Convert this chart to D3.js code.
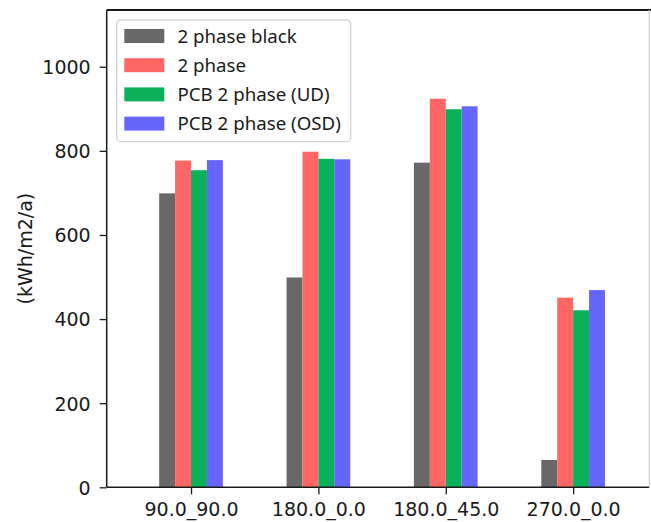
<!DOCTYPE html>
<html>
<head>
<meta charset="utf-8">
<script src="https://cdn.jsdelivr.net/npm/d3@7"></script>
<style>
  html, body { margin: 0; padding: 0; background: #fff; }
  svg { display: block; }
</style>
</head>
<body>
<svg id="chart" width="651" height="522"></svg>
<script>
const categories = ["90.0_90.0", "180.0_0.0", "180.0_45.0", "270.0_0.0"];
const seriesNames = ["2 phase black", "2 phase", "PCB 2 phase (UD)", "PCB 2 phase (OSD)"];
const seriesColors = ["#686868", "#ff6666", "#0bb05b", "#6666ff"];
const black2phase = [699, 499, 772, 65];
const phase2 = [777, 798, 924, 451];
const pcbUD = [754, 781, 899, 421];
const pcbOSD = [778, 780, 906, 469];
const seriesValues = [black2phase, phase2, pcbUD, pcbOSD];
const yTicks = [0, 200, 400, 600, 800, 1000];
const yLabel = "(kWh/m2/a)";

const svg = d3.select("#chart");
const L = 106.7, R = 649.3, T = 10, B = 487.3;

const x = d3.scaleLinear().domain([-0.662, 3.598]).range([L, R]);
const y = d3.scaleLinear().domain([0, 1135]).range([B, T]);
const barW = 0.125;

// bars
seriesValues.forEach((vals, si) => {
  svg.append("g").selectAll("rect").data(vals).join("rect")
    .attr("x", (d, i) => x(i - 0.25 + si * barW))
    .attr("width", x(barW) - x(0))
    .attr("y", d => y(d))
    .attr("height", d => y(0) - y(d))
    .attr("fill", seriesColors[si]);
});

const tickFont = "'DejaVu Sans', sans-serif";

// y axis
const yAxis = svg.append("g").attr("transform", `translate(${L},0)`)
  .call(d3.axisLeft(y).tickValues(yTicks).tickFormat(d3.format("d"))
    .tickSize(7).tickPadding(9).tickSizeOuter(0));
yAxis.select(".domain").remove();
yAxis.selectAll(".tick line").attr("stroke", "#1a1a1a").attr("stroke-width", 1.3);
yAxis.selectAll(".tick text").attr("font-family", tickFont).attr("font-size", 19)
  .attr("fill", "#1a1a1a").attr("dy", "0.36em");

// x axis
const xAxis = svg.append("g").attr("transform", `translate(0,${B})`)
  .call(d3.axisBottom(x).tickValues(d3.range(categories.length))
    .tickFormat(i => categories[i]).tickSize(7).tickPadding(8).tickSizeOuter(0));
xAxis.select(".domain").remove();
xAxis.selectAll(".tick line").attr("stroke", "#1a1a1a").attr("stroke-width", 1.3);
xAxis.selectAll(".tick text").attr("font-family", tickFont).attr("font-size", 19)
  .attr("fill", "#1a1a1a").attr("dy", "0.73em");

// spines
svg.append("line").attr("x1", L).attr("x2", L).attr("y1", T).attr("y2", B)
  .attr("stroke", "#1a1a1a").attr("stroke-width", 1.5);
svg.append("line").attr("x1", L).attr("x2", R).attr("y1", B).attr("y2", B)
  .attr("stroke", "#1a1a1a").attr("stroke-width", 1.5);
svg.append("line").attr("x1", L).attr("x2", 651).attr("y1", T).attr("y2", T)
  .attr("stroke", "#1a1a1a").attr("stroke-width", 2);
svg.append("line").attr("x1", R).attr("x2", R).attr("y1", T).attr("y2", B)
  .attr("stroke", "#d0d0d0").attr("stroke-width", 1.2);

// y label
svg.append("text")
  .attr("transform", `translate(32,${(T + B) / 2}) rotate(-90)`)
  .attr("text-anchor", "middle")
  .attr("font-family", tickFont).attr("font-size", 19).attr("fill", "#1a1a1a")
  .text(yLabel);

// legend
const lg = svg.append("g");
lg.append("rect").attr("x", 116.7).attr("y", 20).attr("width", 234).attr("height", 121.7)
  .attr("rx", 4).attr("fill", "#fff").attr("stroke", "#d4d4d4").attr("stroke-width", 1.3);
const rowY = d3.scaleLinear().domain([0, 3]).range([36, 123.6]);
seriesNames.forEach((name, i) => {
  lg.append("rect").attr("x", 124.3).attr("y", rowY(i) - 7).attr("width", 40).attr("height", 14)
    .attr("fill", seriesColors[i]);
  lg.append("text").attr("x", 177.5).attr("y", rowY(i) + 6.6)
    .attr("font-family", "'Noto Sans', sans-serif").attr("font-size", 18.7).attr("fill", "#1a1a1a")
    .text(name);
});
</script>
</body>
</html>
